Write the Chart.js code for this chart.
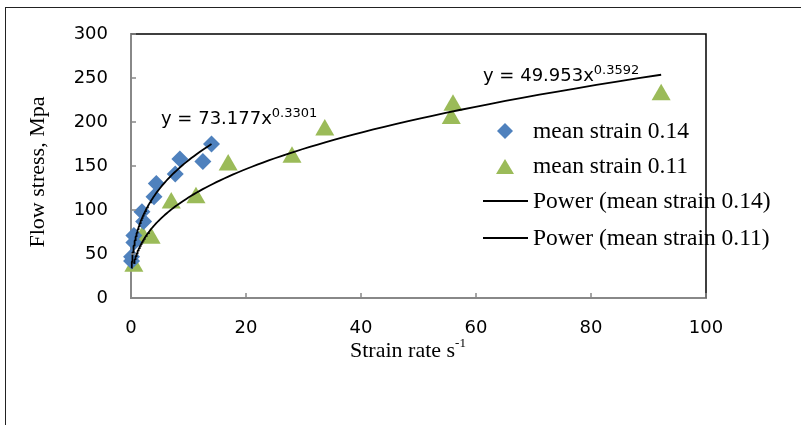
<!DOCTYPE html>
<html>
<head>
<meta charset="utf-8">
<script src="https://cdn.jsdelivr.net/npm/chart.js"></script>
<style>
  html, body { margin: 0; padding: 0; background: #fff; overflow: hidden; }
  #wrap { position: relative; width: 801px; height: 425px; }
  #frame { position: absolute; left: 5px; top: 7px; width: 900px; height: 500px;
           border-left: 1.5px solid #222; border-top: 1.5px solid #222; }
  canvas { position: absolute; left: 0; top: 0; }
</style>
</head>
<body>
<div id="wrap">
  <div id="frame"></div>
  <canvas id="stressChart" width="801" height="425"></canvas>
</div>
<script>
// mean strain 0.14
const rate014   = [0.1, 0.1, 0.5, 0.5, 2.2, 1.9, 4.0, 4.4, 7.7, 8.5, 12.5, 14.0];
const stress014 = [42, 47, 63, 71, 87, 98, 115, 130, 141, 158, 155, 175];
// mean strain 0.11
const rate011   = [0.5, 2.0, 3.5, 7.0, 11.3, 16.9, 28.0, 33.7, 55.7, 56.0, 92.2];
const stress011 = [36, 70, 68, 108, 114, 151, 160, 191, 204, 219, 231];
// power trend lines y = a * x^b, as printed on the chart
const fit014 = [73.177, 0.3301];
const fit011 = [49.953, 0.3592];
const xTicks = [0, 20, 40, 60, 80, 100];
const yTicks = [0, 50, 100, 150, 200, 250, 300];

const blue = '#4F81BD';
const green = '#9BBB59';
const serif = '"Liberation Serif", "Times New Roman", serif';
const sans = '"DejaVu Sans", sans-serif';

function toPoints(xs, ys) {
  return xs.map((v, i) => ({ x: v, y: ys[i] }));
}

// trend curve over the range of the series
function powerCurve(fit, xs) {
  const lo = Math.min(...xs), hi = Math.max(...xs);
  const pts = [];
  const n = 120;
  for (let i = 0; i <= n; i++) {
    const x = lo * Math.pow(hi / lo, i / n);
    pts.push({ x: x, y: fit[0] * Math.pow(x, fit[1]) });
  }
  return pts;
}

function textWithSup(ctx, main, sup, x, base, mainFont, supFont, rise) {
  ctx.font = mainFont;
  ctx.fillText(main, x, base);
  const w = ctx.measureText(main).width;
  ctx.font = supFont;
  ctx.fillText(sup, x + w, base - rise);
}

const decor = {
  id: 'decor',
  afterDraw(chart) {
    const { ctx, chartArea: a, scales: { x, y } } = chart;
    ctx.save();

    // top and right frame
    ctx.strokeStyle = '#000';
    ctx.lineWidth = 1.5;
    ctx.beginPath();
    ctx.moveTo(a.left, a.top);
    ctx.lineTo(a.right, a.top);
    ctx.lineTo(a.right, a.bottom);
    ctx.stroke();

    // inside tick marks
    ctx.strokeStyle = '#888';
    ctx.beginPath();
    xTicks.forEach(v => {
      const px = x.getPixelForValue(v);
      ctx.moveTo(px, a.bottom);
      ctx.lineTo(px, a.bottom - 5);
    });
    yTicks.forEach(v => {
      const py = y.getPixelForValue(v);
      ctx.moveTo(a.left, py);
      ctx.lineTo(a.left + 5, py);
    });
    ctx.stroke();

    ctx.fillStyle = '#000';
    ctx.textBaseline = 'alphabetic';
    ctx.textAlign = 'left';

    // equations
    textWithSup(ctx, 'y = 73.177x', '0.3301', 161, 124, '18px ' + sans, '13px ' + sans, 7);
    textWithSup(ctx, 'y = 49.953x', '0.3592', 483, 81, '18px ' + sans, '13px ' + sans, 7);

    // x axis title
    textWithSup(ctx, 'Strain rate s', '-1', 350, 357, '22px ' + serif, '13px ' + serif, 10);

    // y axis title
    ctx.save();
    ctx.translate(38, 172);
    ctx.rotate(-Math.PI / 2);
    ctx.font = '22px ' + serif;
    ctx.textAlign = 'center';
    ctx.textBaseline = 'middle';
    ctx.fillText('Flow stress, Mpa', 0, 0);
    ctx.restore();

    // legend
    ctx.fillStyle = blue;
    ctx.beginPath();
    ctx.moveTo(505, 123); ctx.lineTo(513, 131); ctx.lineTo(505, 139); ctx.lineTo(497, 131);
    ctx.closePath();
    ctx.fill();
    ctx.fillStyle = green;
    ctx.beginPath();
    ctx.moveTo(505, 159); ctx.lineTo(514, 174); ctx.lineTo(496, 174);
    ctx.closePath();
    ctx.fill();
    ctx.strokeStyle = '#000';
    ctx.lineWidth = 1.8;
    ctx.beginPath();
    ctx.moveTo(483, 201); ctx.lineTo(528, 201);
    ctx.moveTo(483, 238); ctx.lineTo(528, 238);
    ctx.stroke();

    ctx.fillStyle = '#000';
    ctx.font = '23.5px ' + serif;
    ctx.fillText('mean strain 0.14', 533, 138);
    ctx.fillText('mean strain 0.11', 533, 173);
    ctx.fillText('Power (mean strain 0.14)', 533, 208);
    ctx.fillText('Power (mean strain 0.11)', 533, 245);

    ctx.restore();
  }
};

document.addEventListener('DOMContentLoaded', () => {
  const ctx = document.getElementById('stressChart').getContext('2d');

  new Chart(ctx, {
    type: 'scatter',
    data: {
      datasets: [
        {
          label: 'Power (mean strain 0.14)',
          data: powerCurve(fit014, rate014),
          showLine: true, pointRadius: 0, borderColor: '#000', borderWidth: 1.8,
          order: 0, clip: false
        },
        {
          label: 'Power (mean strain 0.11)',
          data: powerCurve(fit011, rate011),
          showLine: true, pointRadius: 0, borderColor: '#000', borderWidth: 1.8,
          order: 0, clip: false
        },
        {
          label: 'mean strain 0.14',
          data: toPoints(rate014, stress014),
          pointStyle: 'rectRot', pointRadius: 8.5, borderWidth: 0,
          backgroundColor: blue, borderColor: blue,
          order: 1, clip: false
        },
        {
          label: 'mean strain 0.11',
          data: toPoints(rate011, stress011),
          pointStyle: 'triangle', pointRadius: 11, borderWidth: 0,
          backgroundColor: green, borderColor: green,
          order: 1, clip: false
        }
      ]
    },
    options: {
      responsive: false,
      animation: false,
      devicePixelRatio: 1,
      layout: { padding: { top: 34, right: 95, left: 0, bottom: 0 } },
      plugins: { legend: { display: false }, tooltip: { enabled: false } },
      scales: {
        x: {
          type: 'linear', min: 0, max: 100,
          ticks: { stepSize: 20, padding: 12, color: '#000', font: { family: sans, size: 18 } },
          grid: { display: false },
          border: { color: '#888', width: 2 },
          afterFit(s) { s.height = 127; }
        },
        y: {
          min: 0, max: 300,
          ticks: { stepSize: 50, padding: 15, color: '#000', font: { family: sans, size: 18 } },
          grid: { display: false },
          border: { color: '#888', width: 2 },
          afterFit(s) { s.width = 131; }
        }
      }
    },
    plugins: [decor]
  });
});
</script>
</body>
</html>
